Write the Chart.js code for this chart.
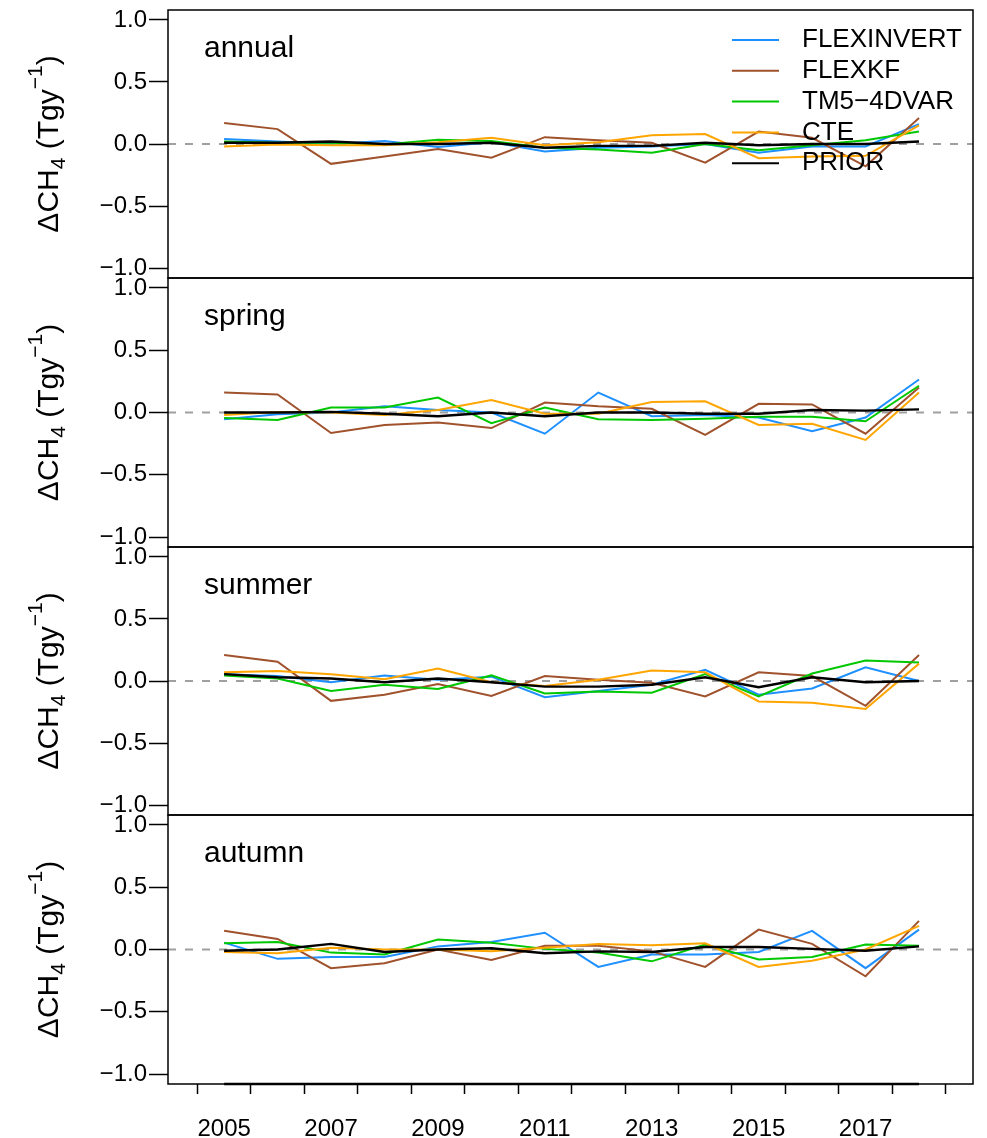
<!DOCTYPE html>
<html>
<head>
<meta charset="utf-8">
<script src="https://cdn.jsdelivr.net/npm/chart.js@4.4.1/dist/chart.umd.min.js"></script>
<style>
  body { margin: 0; background: #fff; }
  #wrap { position: relative; width: 987px; height: 1138px; }
  #wrap canvas { position: absolute; left: 0; }
</style>
</head>
<body>
<div id="wrap">
  <canvas id="c0"></canvas>
  <canvas id="c1"></canvas>
  <canvas id="c2"></canvas>
  <canvas id="c3"></canvas>
</div>
<script>
/* ================= DATA ================= */
const years = [2005, 2006, 2007, 2008, 2009, 2010, 2011, 2012, 2013, 2014, 2015, 2016, 2017, 2018];
const models = ['FLEXINVERT', 'FLEXKF', 'TM5\u22124DVAR', 'CTE', 'PRIOR'];
const seasons = ['annual', 'spring', 'summer', 'autumn'];
const yTicks = [-1, -0.5, 0, 0.5, 1];
const xTickMarks = [2004.5, 2005.5, 2006.5, 2007.5, 2008.5, 2009.5, 2010.5, 2011.5, 2012.5, 2013.5, 2014.5, 2015.5, 2016.5, 2017.5, 2018.5];
const xLabelYears = [2005, 2007, 2009, 2011, 2013, 2015, 2017];

const annualFlexinvert = [0.04, 0.02, 0.00, 0.025, -0.025, 0.015, -0.06, -0.03, -0.02, 0.00, -0.07, -0.02, -0.02, 0.16];
const annualFlexkf     = [0.17, 0.12, -0.16, -0.10, -0.04, -0.11, 0.055, 0.03, 0.01, -0.15, 0.10, 0.05, -0.18, 0.21];
const annualTm5        = [0.02, 0.01, 0.01, -0.005, 0.035, 0.025, -0.03, -0.045, -0.07, 0.00, -0.05, -0.01, 0.03, 0.10];
const annualCte        = [-0.02, -0.005, -0.01, -0.01, 0.015, 0.05, -0.01, 0.015, 0.07, 0.08, -0.115, -0.10, -0.095, 0.15];
const annualPrior      = [0.01, 0.01, 0.02, 0.00, 0.00, 0.01, -0.03, -0.015, -0.015, 0.01, -0.01, 0.00, 0.00, 0.02];

const springFlexinvert = [-0.055, -0.015, 0.00, 0.05, 0.02, 0.00, -0.17, 0.16, -0.03, -0.02, -0.04, -0.15, -0.04, 0.265];
const springFlexkf     = [0.16, 0.145, -0.165, -0.10, -0.08, -0.125, 0.08, 0.05, 0.03, -0.18, 0.07, 0.065, -0.17, 0.20];
const springTm5        = [-0.045, -0.06, 0.04, 0.04, 0.12, -0.085, 0.04, -0.055, -0.06, -0.05, -0.035, -0.035, -0.07, 0.215];
const springCte        = [-0.02, 0.005, 0.00, -0.02, 0.02, 0.10, -0.01, -0.01, 0.085, 0.09, -0.10, -0.09, -0.22, 0.16];
const springPrior      = [0.00, 0.00, 0.005, -0.01, -0.03, 0.00, -0.03, 0.00, 0.00, -0.01, -0.01, 0.02, 0.015, 0.025];

const summerFlexinvert = [0.055, 0.04, -0.01, 0.045, 0.01, 0.035, -0.13, -0.08, -0.03, 0.09, -0.11, -0.06, 0.11, 0.00];
const summerFlexkf     = [0.21, 0.155, -0.16, -0.11, -0.025, -0.12, 0.04, 0.01, -0.015, -0.125, 0.07, 0.04, -0.20, 0.21];
const summerTm5        = [0.045, 0.02, -0.08, -0.03, -0.065, 0.045, -0.10, -0.085, -0.095, 0.055, -0.125, 0.06, 0.165, 0.15];
const summerCte        = [0.07, 0.08, 0.055, 0.015, 0.10, -0.01, -0.04, 0.01, 0.085, 0.07, -0.165, -0.175, -0.225, 0.14];
const summerPrior      = [0.055, 0.03, 0.02, -0.01, 0.02, -0.01, -0.045, -0.045, -0.03, 0.03, -0.05, 0.03, -0.01, 0.00];

const autumnFlexinvert = [0.055, -0.075, -0.06, -0.06, 0.025, 0.06, 0.135, -0.14, -0.04, -0.04, -0.02, 0.15, -0.15, 0.16];
const autumnFlexkf     = [0.15, 0.085, -0.15, -0.11, 0.00, -0.085, 0.03, 0.03, -0.015, -0.14, 0.16, 0.045, -0.215, 0.23];
const autumnTm5        = [0.05, 0.06, -0.025, -0.04, 0.08, 0.055, 0.005, -0.025, -0.095, 0.04, -0.08, -0.06, 0.04, 0.03];
const autumnCte        = [-0.02, -0.03, 0.015, 0.00, 0.00, -0.015, 0.015, 0.045, 0.035, 0.05, -0.14, -0.09, 0.00, 0.19];
const autumnPrior      = [-0.01, 0.00, 0.045, -0.02, 0.00, 0.01, -0.03, -0.015, -0.02, 0.02, 0.02, 0.005, -0.01, 0.025];

const seasonSeries = [
    [annualFlexinvert, annualFlexkf, annualTm5, annualCte, annualPrior],
    [springFlexinvert, springFlexkf, springTm5, springCte, springPrior],
    [summerFlexinvert, summerFlexkf, summerTm5, summerCte, summerPrior],
    [autumnFlexinvert, autumnFlexkf, autumnTm5, autumnCte, autumnPrior]
];

/* ================= STYLE / LAYOUT ================= */
const FONT = "'Liberation Sans', Arial, Helvetica, sans-serif";
const colors = ['#1E90FF', '#A0522D', '#00C800', '#FFA500', '#000000'];
const X_MIN = 2003.95, X_MAX = 2019.01;
const Y_MIN = -1.08, Y_MAX = 1.08;
const panelTops = [10, 278, 547, 815];
const panelHeights = [268, 269, 268, 269];
const PAD = 20;

Chart.defaults.font.family = FONT;
Chart.defaults.color = '#000';

/* ================= DECORATION PLUGIN ================= */
function drawYTitle(ctx, cx, cy) {
    const parts = [
        { t: '\u0394CH', size: 30, dy: 0 },
        { t: '4', size: 21, dy: 7 },
        { t: ' (Tgy', size: 30, dy: 0 },
        { t: '\u22121', size: 21, dy: -16 },
        { t: ')', size: 30, dy: 0 }
    ];
    let total = 0;
    parts.forEach(p => {
        ctx.font = p.size + 'px ' + FONT;
        p.w = ctx.measureText(p.t).width;
        total += p.w;
    });
    ctx.save();
    ctx.translate(cx, cy);
    ctx.rotate(-Math.PI / 2);
    ctx.textAlign = 'left';
    ctx.textBaseline = 'alphabetic';
    let x = -total / 2;
    parts.forEach(p => {
        ctx.font = p.size + 'px ' + FONT;
        ctx.fillText(p.t, x, p.dy);
        x += p.w;
    });
    ctx.restore();
}

const panelDecor = {
    id: 'panelDecor',
    afterDatasetsDraw(chart, args, opts) {
        const { ctx, chartArea: a, scales } = chart;
        ctx.save();
        ctx.fillStyle = '#000';

        // panel box
        ctx.strokeStyle = '#000';
        ctx.lineWidth = 1.5;
        ctx.strokeRect(a.left, a.top, a.right - a.left, a.bottom - a.top);

        // heavier axis line between first and last year on the bottom panel
        if (opts.xAxis) {
            ctx.lineWidth = 2.5;
            ctx.beginPath();
            ctx.moveTo(scales.x.getPixelForValue(years[0]), a.bottom);
            ctx.lineTo(scales.x.getPixelForValue(years[years.length - 1]), a.bottom);
            ctx.stroke();
        }

        // season label
        ctx.font = '30px ' + FONT;
        ctx.textAlign = 'left';
        ctx.textBaseline = 'alphabetic';
        ctx.fillText(opts.label, a.left + 36, a.top + 47);

        // y axis title
        drawYTitle(ctx, 58, (a.top + a.bottom) / 2);

        // legend
        if (opts.legend) {
            ctx.font = '26px ' + FONT;
            ctx.textBaseline = 'middle';
            models.forEach((name, i) => {
                const y = a.top + 30 + i * 30.8;
                ctx.strokeStyle = colors[i];
                ctx.lineWidth = 2;
                ctx.beginPath();
                ctx.moveTo(732, y);
                ctx.lineTo(779, y);
                ctx.stroke();
                ctx.fillText(name, 802, y);
            });
        }
        ctx.restore();
    }
};

/* ================= BUILD PANELS ================= */
seasons.forEach((season, p) => {
    const isLast = p === seasons.length - 1;
    const canvas = document.getElementById('c' + p);
    const top = panelTops[p] - PAD;
    const height = isLast ? 1138 - top : panelHeights[p] + 2 * PAD;
    canvas.width = 987;
    canvas.height = height;
    canvas.style.top = top + 'px';
    canvas.style.width = '987px';
    canvas.style.height = height + 'px';

    const datasets = models.map((name, i) => ({
        label: name,
        data: years.map((yr, k) => ({ x: yr, y: seasonSeries[p][i][k] })),
        borderColor: colors[i],
        borderWidth: i === 4 ? 2.4 : 2,
        pointRadius: 0,
        tension: 0,
        fill: false,
        order: models.length - i
    }));
    datasets.push({
        label: 'zero',
        data: [{ x: X_MIN, y: 0 }, { x: X_MAX, y: 0 }],
        borderColor: '#a0a0a0',
        borderWidth: 2,
        borderDash: [8, 9],
        pointRadius: 0,
        order: 10
    });

    new Chart(canvas.getContext('2d'), {
        type: 'line',
        data: { datasets },
        options: {
            responsive: false,
            animation: false,
            devicePixelRatio: 1,
            layout: { padding: { left: 0, right: 14, top: PAD, bottom: isLast ? 0 : PAD } },
            plugins: {
                legend: { display: false },
                tooltip: { enabled: false },
                panelDecor: { label: season, legend: p === 0, xAxis: isLast }
            },
            scales: {
                x: {
                    type: 'linear',
                    display: isLast,
                    min: X_MIN,
                    max: X_MAX,
                    afterBuildTicks: axis => {
                        axis.ticks = xTickMarks.concat(xLabelYears)
                            .sort((a, b) => a - b)
                            .map(v => ({ value: v }));
                    },
                    afterFit: scale => { if (isLast) scale.height = 54; },
                    border: { display: false },
                    grid: {
                        drawOnChartArea: false,
                        drawTicks: true,
                        tickLength: 10,
                        tickWidth: 1.5,
                        tickColor: ctx => (ctx.tick && xLabelYears.includes(ctx.tick.value)) ? 'rgba(0,0,0,0)' : '#000'
                    },
                    ticks: {
                        autoSkip: false,
                        maxRotation: 0,
                        padding: 21,
                        font: { size: 24 },
                        color: '#000',
                        callback: v => xLabelYears.includes(v) ? String(v) : ''
                    }
                },
                y: {
                    type: 'linear',
                    min: Y_MIN,
                    max: Y_MAX,
                    afterBuildTicks: axis => {
                        axis.ticks = yTicks.map(v => ({ value: v }));
                    },
                    afterFit: scale => { scale.width = 168; },
                    border: { display: false },
                    grid: {
                        drawOnChartArea: false,
                        drawTicks: true,
                        tickLength: 19,
                        tickWidth: 1.5,
                        tickColor: '#000'
                    },
                    ticks: {
                        padding: 2,
                        font: { size: 24 },
                        color: '#000',
                        callback: v => (v < 0 ? '\u2212' : '') + Math.abs(v).toFixed(1)
                    }
                }
            }
        },
        plugins: [panelDecor]
    });
});
</script>
</body>
</html>
